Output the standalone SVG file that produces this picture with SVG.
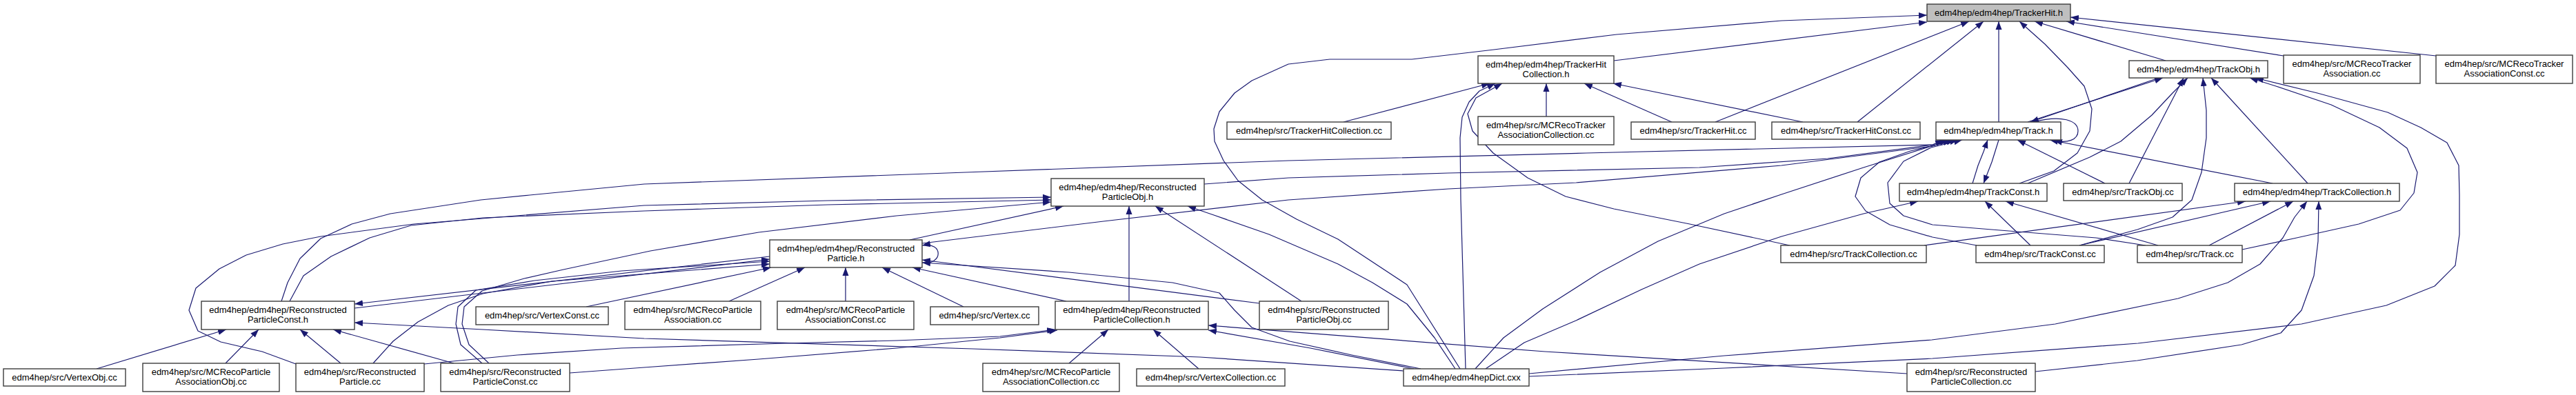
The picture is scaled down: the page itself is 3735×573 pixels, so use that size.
<svg xmlns="http://www.w3.org/2000/svg" width="3735" height="573" viewBox="0 0 3735 573">
<defs>
<style>
.n rect{fill:#fff;stroke:#3c3c3c;stroke-width:1.4}
.n text{font-family:"Liberation Sans",Arial,Helvetica,sans-serif;font-size:13px;text-anchor:middle;fill:#000}
.e path{fill:none;stroke:#191970;stroke-width:1.2;stroke-linejoin:round;marker-end:url(#ah)}
</style>
<marker id="ah" viewBox="0 0 12 10" refX="12" refY="5" markerWidth="12" markerHeight="10" markerUnits="userSpaceOnUse" orient="auto"><path d="M0,0.5 L12,5 L0,9.5 z" fill="#191970"/></marker>
</defs>
<rect x="0" y="0" width="3735" height="573" fill="#fff"/>
<g id="edges" class="e">
<path d="M2340,88 L2794,32"/>
<path d="M2117,535 L2040,413 L1940,347 L1880,318 L1830,290 L1795,262 L1774,233 L1761,205 L1760,187 L1768,162 L1790,135 L1815,117 L1868,93 L1928,86 L2047,86 L2166,72 L2344,50 L2583,30 L2794,22"/>
<path d="M2487,177 L2855,31"/>
<path d="M2693,177 L2876,31"/>
<path d="M2898,177 L2898,31"/>
<path d="M2928,266 L2978,248 L3012,222 L3030,190 L3033,158 L3022,125 L2998,98 L2965,64 L2928,31"/>
<path d="M2940,266 L3030,228 L3075,205 L3120,167 L3150,135 L3172,113"/>
<path d="M3140,88 L2950,31"/>
<path d="M3311,81 L2996,31"/>
<path d="M3532,81 L3002,25"/>
<path d="M1948,177 L2160,121"/>
<path d="M2242,169 L2242,121"/>
<path d="M2424,177 L2297,121"/>
<path d="M2614,177 L2339,121"/>
<path d="M2125,535 L2118,290 L2117,200 L2120,170 L2130,148 L2145,132 L2168,121"/>
<path d="M2595,356 L2450,325 L2340,303 L2270,285 L2215,258 L2165,222 L2135,190 L2128,165 L2140,142 L2178,121"/>
<path d="M2940,177 L3136,113"/>
<path d="M3130,113 L2944,177"/>
<path d="M3087,266 L3166,113"/>
<path d="M3015,356 L3099,333 L3150,315 L3178,290 L3192,250 L3199,200 L3199,160 L3194,113"/>
<path d="M3346,266 L3206,113"/>
<path d="M3251,362 L3330,345 L3420,325 L3480,305 L3500,280 L3505,250 L3490,215 L3450,185 L3380,152 L3300,125 L3262,113"/>
<path d="M2217,546 L2500,534 L2802,520 L3100,498 L3337,470 L3460,443 L3530,415 L3560,385 L3566,340 L3566,283 L3565,240 L3548,207 L3510,185 L3462,163 L3360,135 L3270,113"/>
<path d="M2898,203 L2888,235 L2876,266"/>
<path d="M2860,266 L2868,240 L2876,220 L2882,203"/>
<path d="M3052,266 L2925,203"/>
<path d="M3295,266 L2972,203"/>
<path d="M2948,177 C2990,166 3013,175 3013,190 C3013,203 2998,208 2978,204"/>
<path d="M2944,356 L2878,292"/>
<path d="M3129,356 L2908,292"/>
<path d="M2154,535 L2210,497 L2285,465 L2380,420 L2464,383 L2583,343 L2702,310 L2781,292"/>
<path d="M2139,535 L2180,490 L2237,448 L2320,395 L2404,350 L2500,310 L2583,282 L2702,243 L2800,212 L2834,203"/>
<path d="M2866,356 L2802,344 L2740,326 L2705,306 L2690,285 L2698,258 L2725,235 L2770,219 L2839,203"/>
<path d="M3111,356 L3039,345 L2900,334 L2802,326 L2760,313 L2740,295 L2737,265 L2760,234 L2800,214 L2845,203"/>
<path d="M2790,356 L3256,292"/>
<path d="M3015,356 L3292,292"/>
<path d="M3203,356 L3325,292"/>
<path d="M2217,542 L2500,516 L2801,493 L2980,470 L3158,433 L3230,410 L3277,383 L3310,345 L3327,315 L3345,292"/>
<path d="M2951,539 L3099,523 L3250,500 L3307,483 L3337,450 L3355,400 L3361,350 L3362,292"/>
<path d="M1746,267 L1868,258 L2100,251 L2464,243 L2650,230 L2802,210 L2824,203"/>
<path d="M1337,353 L1600,321 L1868,290 L2100,274 L2285,265 L2583,240 L2802,212 L2829,203"/>
<path d="M408,437 L417,410 L435,375 L465,346 L510,325 L566,310 L697,290 L768,283 L934,267 L1400,250 L1868,233 L2300,222 L2802,210 L2818,203"/>
<path d="M420,437 L440,400 L480,372 L536,345 L596,327 L700,316 L934,306 L1200,297 L1524,290"/>
<path d="M429,528 L380,510 L320,496 L287,480 L274,450 L284,418 L318,390 L357,370 L410,354 L465,343 L600,325 L934,298 L1200,291 L1524,286"/>
<path d="M709,527 L680,500 L670,470 L673,445 L699,422 L760,404 L817,391 L943,364 L1100,337 L1300,313 L1524,293"/>
<path d="M699,527 L668,500 L661,470 L664,445 L690,421 L775,407 L901,393 L1116,379"/>
<path d="M541,527 L570,495 L606,467 L650,443 L700,426 L800,408 L1116,383"/>
<path d="M514,447 L1116,376"/>
<path d="M1116,372 L514,441"/>
<path d="M2035,538 L1740,518 L1410,506 L934,491 L700,478 L514,468"/>
<path d="M615,528 L750,515 L901,505 L1140,498 L1300,494 L1450,488 L1530,478"/>
<path d="M826,541 L934,533 L1100,521 L1300,505 L1450,490 L1533,479"/>
<path d="M1637,437 L1637,299"/>
<path d="M1546,437 L1323,388"/>
<path d="M1550,527 L1607,478"/>
<path d="M1738,535 L1672,478"/>
<path d="M2765,542 L2240,510 L1752,472"/>
<path d="M2050,535 L1900,505 L1752,479"/>
<path d="M2060,535 L1960,515 L1870,495 L1815,475 L1790,450 L1768,425 L1700,410 L1550,395 L1337,381"/>
<path d="M1826,440 L1337,377"/>
<path d="M1887,437 L1675,299"/>
<path d="M2110,535 L2080,490 L2040,441 L1990,410 L1940,383 L1840,340 L1760,312 L1722,299"/>
<path d="M1319,348 L1542,299"/>
<path d="M140,535 L328,478"/>
<path d="M327,527 L375,478"/>
<path d="M494,527 L435,478"/>
<path d="M658,527 L483,478"/>
<path d="M850,445 L1118,388"/>
<path d="M1057,437 L1167,388"/>
<path d="M1226,437 L1226,388"/>
<path d="M1397,445 L1279,388"/>
<path d="M1337,381 C1368,385 1368,350 1337,356"/>
</g>
<g id="n_TrackerHit_h" class="n"><rect x="2794" y="6" width="208" height="25" style="fill:#bfbfbf"/><text x="2898" y="23">edm4hep/edm4hep/TrackerHit.h</text></g>
<g id="n_TrackerHitCollection_h" class="n"><rect x="2143" y="81" width="197" height="40"/><text x="2241.5" y="98">edm4hep/edm4hep/TrackerHit</text><text x="2241.5" y="112">Collection.h</text></g>
<g id="n_TrackObj_h" class="n"><rect x="3087" y="88" width="201" height="25"/><text x="3187.5" y="105">edm4hep/edm4hep/TrackObj.h</text></g>
<g id="n_MCRecoTrackerAssociation_cc" class="n"><rect x="3311" y="80" width="198" height="41"/><text x="3410" y="97">edm4hep/src/MCRecoTracker</text><text x="3410" y="111">Association.cc</text></g>
<g id="n_MCRecoTrackerAssociationConst_cc" class="n"><rect x="3532" y="80" width="198" height="41"/><text x="3631" y="97">edm4hep/src/MCRecoTracker</text><text x="3631" y="111">AssociationConst.cc</text></g>
<g id="n_TrackerHitCollection_cc" class="n"><rect x="1779" y="177" width="238" height="25"/><text x="1898" y="194">edm4hep/src/TrackerHitCollection.cc</text></g>
<g id="n_MCRecoTrackerAssociationCollection_cc" class="n"><rect x="2143" y="169" width="197" height="41"/><text x="2241.5" y="186">edm4hep/src/MCRecoTracker</text><text x="2241.5" y="200">AssociationCollection.cc</text></g>
<g id="n_TrackerHit_cc" class="n"><rect x="2365" y="177" width="180" height="25"/><text x="2455" y="194">edm4hep/src/TrackerHit.cc</text></g>
<g id="n_TrackerHitConst_cc" class="n"><rect x="2569" y="177" width="215" height="25"/><text x="2676.5" y="194">edm4hep/src/TrackerHitConst.cc</text></g>
<g id="n_Track_h" class="n"><rect x="2807" y="177" width="181" height="26"/><text x="2897.5" y="194">edm4hep/edm4hep/Track.h</text></g>
<g id="n_ReconstructedParticleObj_h" class="n"><rect x="1524" y="259" width="222" height="40"/><text x="1635" y="276">edm4hep/edm4hep/Reconstructed</text><text x="1635" y="290">ParticleObj.h</text></g>
<g id="n_TrackConst_h" class="n"><rect x="2754" y="266" width="214" height="26"/><text x="2861" y="283">edm4hep/edm4hep/TrackConst.h</text></g>
<g id="n_TrackObj_cc" class="n"><rect x="2992" y="266" width="172" height="25"/><text x="3078" y="283">edm4hep/src/TrackObj.cc</text></g>
<g id="n_TrackCollection_h" class="n"><rect x="3240" y="266" width="239" height="26"/><text x="3359.5" y="283">edm4hep/edm4hep/TrackCollection.h</text></g>
<g id="n_ReconstructedParticle_h" class="n"><rect x="1116" y="348" width="221" height="40"/><text x="1226.5" y="365">edm4hep/edm4hep/Reconstructed</text><text x="1226.5" y="379">Particle.h</text></g>
<g id="n_TrackCollection_cc" class="n"><rect x="2582" y="356" width="211" height="25"/><text x="2687.5" y="373">edm4hep/src/TrackCollection.cc</text></g>
<g id="n_TrackConst_cc" class="n"><rect x="2865" y="356" width="186" height="25"/><text x="2958" y="373">edm4hep/src/TrackConst.cc</text></g>
<g id="n_Track_cc" class="n"><rect x="3099" y="356" width="152" height="25"/><text x="3175" y="373">edm4hep/src/Track.cc</text></g>
<g id="n_ReconstructedParticleConst_h" class="n"><rect x="292" y="437" width="222" height="41"/><text x="403" y="454">edm4hep/edm4hep/Reconstructed</text><text x="403" y="468">ParticleConst.h</text></g>
<g id="n_VertexConst_cc" class="n"><rect x="690" y="445" width="192" height="26"/><text x="786" y="462">edm4hep/src/VertexConst.cc</text></g>
<g id="n_MCRecoParticleAssociation_cc" class="n"><rect x="906" y="437" width="197" height="41"/><text x="1004.5" y="454">edm4hep/src/MCRecoParticle</text><text x="1004.5" y="468">Association.cc</text></g>
<g id="n_MCRecoParticleAssociationConst_cc" class="n"><rect x="1127" y="437" width="198" height="41"/><text x="1226" y="454">edm4hep/src/MCRecoParticle</text><text x="1226" y="468">AssociationConst.cc</text></g>
<g id="n_Vertex_cc" class="n"><rect x="1349" y="445" width="157" height="26"/><text x="1427.5" y="462">edm4hep/src/Vertex.cc</text></g>
<g id="n_ReconstructedParticleCollection_h" class="n"><rect x="1530" y="437" width="222" height="41"/><text x="1641" y="454">edm4hep/edm4hep/Reconstructed</text><text x="1641" y="468">ParticleCollection.h</text></g>
<g id="n_ReconstructedParticleObj_cc" class="n"><rect x="1826" y="437" width="187" height="41"/><text x="1919.5" y="454">edm4hep/src/Reconstructed</text><text x="1919.5" y="468">ParticleObj.cc</text></g>
<g id="n_VertexObj_cc" class="n"><rect x="5" y="535" width="177" height="25"/><text x="93.5" y="552">edm4hep/src/VertexObj.cc</text></g>
<g id="n_MCRecoParticleAssociationObj_cc" class="n"><rect x="207" y="527" width="198" height="41"/><text x="306" y="544">edm4hep/src/MCRecoParticle</text><text x="306" y="558">AssociationObj.cc</text></g>
<g id="n_ReconstructedParticle_cc" class="n"><rect x="429" y="527" width="186" height="41"/><text x="522" y="544">edm4hep/src/Reconstructed</text><text x="522" y="558">Particle.cc</text></g>
<g id="n_ReconstructedParticleConst_cc" class="n"><rect x="639" y="527" width="187" height="41"/><text x="732.5" y="544">edm4hep/src/Reconstructed</text><text x="732.5" y="558">ParticleConst.cc</text></g>
<g id="n_MCRecoParticleAssociationCollection_cc" class="n"><rect x="1425" y="527" width="198" height="41"/><text x="1524" y="544">edm4hep/src/MCRecoParticle</text><text x="1524" y="558">AssociationCollection.cc</text></g>
<g id="n_VertexCollection_cc" class="n"><rect x="1648" y="535" width="215" height="25"/><text x="1755.5" y="552">edm4hep/src/VertexCollection.cc</text></g>
<g id="n_edm4hepDict_cxx" class="n"><rect x="2035" y="535" width="182" height="25"/><text x="2126" y="552">edm4hep/edm4hepDict.cxx</text></g>
<g id="n_ReconstructedParticleCollection_cc" class="n"><rect x="2765" y="527" width="186" height="41"/><text x="2858" y="544">edm4hep/src/Reconstructed</text><text x="2858" y="558">ParticleCollection.cc</text></g>
</svg>
